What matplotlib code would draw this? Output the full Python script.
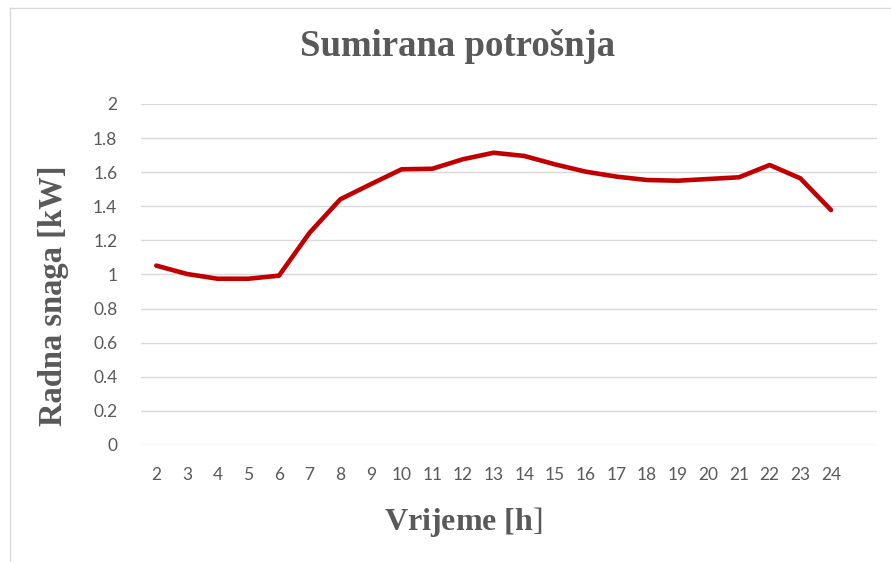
import matplotlib
matplotlib.use("Agg")
import matplotlib.pyplot as plt
from matplotlib.lines import Line2D

# sati i ukupna radna snaga
sati = [2, 3, 4, 5, 6, 7, 8, 9, 10, 11, 12, 13, 14, 15, 16, 17, 18, 19, 20, 21, 22, 23, 24]
snaga = [1.052, 1.003, 0.975, 0.975, 0.993, 1.245, 1.441, 1.53, 1.617, 1.62, 1.676, 1.714,
         1.695, 1.646, 1.603, 1.574, 1.554, 1.550, 1.560, 1.570, 1.642, 1.564, 1.378]
y_ticks = [0, 0.2, 0.4, 0.6, 0.8, 1, 1.2, 1.4, 1.6, 1.8, 2]
y_tick_labels = ["0", "0.2", "0.4", "0.6", "0.8", "1", "1.2", "1.4", "1.6", "1.8", "2"]

plt.rcParams['mathtext.fontset'] = 'custom'
plt.rcParams['mathtext.rm'] = 'Liberation Serif'
plt.rcParams['mathtext.bf'] = 'Liberation Serif:bold'

siva = '#595959'
fig = plt.figure(figsize=(8.91, 5.62), dpi=100)
ax = fig.add_axes([0.1582, 0.2082, 0.8261, 0.6068])

ax.plot(sati, snaga, color='#C00000', linewidth=3.3, solid_capstyle='round', solid_joinstyle='round', zorder=3)

ax.set_xlim(1.5, 25.5)
ax.set_ylim(0, 2)
ax.set_xticks(sati)
ax.set_yticks(y_ticks)
ax.set_yticklabels(y_tick_labels)
ax.grid(axis='y', color='#D9D9D9', linewidth=1.0)
ax.set_axisbelow(True)
for s in ax.spines.values():
    s.set_visible(False)
ax.tick_params(length=0, labelsize=12.5, labelcolor=siva)
ax.tick_params(axis='x', pad=16)
ax.tick_params(axis='y', pad=17)
for lab in ax.get_xticklabels() + ax.get_yticklabels():
    lab.set_fontfamily('Lato')

# naslovi
fig.text(0.514, 0.918, 'Sumirana potrošnja', ha='center', va='center',
         fontsize=26.5, fontweight='bold', family='Liberation Serif', color=siva)
fig.text(0.060, 0.474, 'Radna snaga [kW]', ha='center', va='center', rotation=90,
         fontsize=23.5, fontweight='bold', family='Liberation Serif', color=siva)
fig.text(0.52, 0.071, r'$\mathbf{Vrijeme}$ $\mathbf{[h}$]', ha='center', va='center',
         fontsize=23, family='Liberation Serif', color=siva)

# okvir grafikona
fig.add_artist(Line2D([10 / 891, 10 / 891], [0, 1 - 8 / 562], color='#D9D9D9', linewidth=1))
fig.add_artist(Line2D([10 / 891, 1], [1 - 8 / 562, 1 - 8 / 562], color='#D9D9D9', linewidth=1))

fig.savefig('out.png', dpi=100)
